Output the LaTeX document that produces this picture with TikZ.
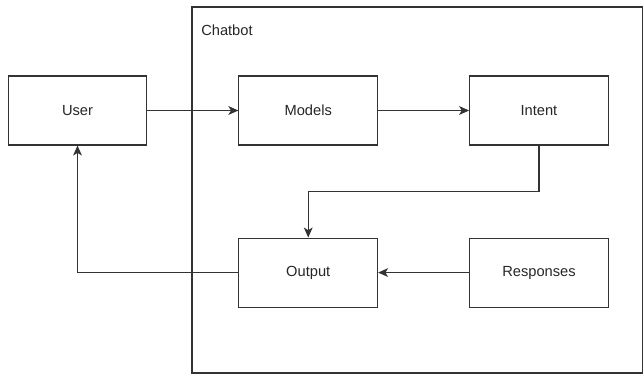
\documentclass[tikz,border=0pt]{standalone}
\usepackage{fontspec}
\setmainfont{Liberation Sans}
\usetikzlibrary{positioning,arrows.meta}
\tikzset{
	block/.style={draw=black!80,line width=0.8pt,minimum width=104pt,minimum height=51.75pt,inner sep=0pt,text=black!85,font=\fontsize{11}{13}\selectfont},%
	frame/.style={draw=black!80,line width=0.8pt},%
	framelabel/.style={anchor=west,inner sep=0pt,text=black!85,font=\fontsize{11}{13}\selectfont},%
	flow/.style={draw=black!80,line width=0.8pt,-{Stealth[length=7.5pt,width=6.6pt,inset=2pt]}},%
}
\begin{document}
\begin{tikzpicture}[x=0.75pt,y=-0.75pt]
		\useasboundingbox (0,0) rectangle (644,375);
		% Chatbot frame {{{
		\draw[frame] (192,7) rectangle (642.5,373);
		\node[framelabel] (chatbot) at (201,30) {Chatbot};
		% }}}
		% Blocks {{{
		\node[block] (user) at (77.5,110.5) {User};
		\node[block,right=68.25pt of user] (models) {Models};
		\node[block,right=68.25pt of models] (intent) {Intent};
		\node[block,below=69pt of models] (output) {Output};
		\node[block,below=69pt of intent] (responses) {Responses};
		% }}}
		\draw[flow] (user) -- (models);
		\draw[flow] (models) -- (intent);
		\draw[flow] (intent.south) -- ++(0,46) -| (output.north);
		\draw[flow] (responses) -- (output);
		\draw[flow] (output.west) -| (user.south);
	\end{tikzpicture}
\end{document}
